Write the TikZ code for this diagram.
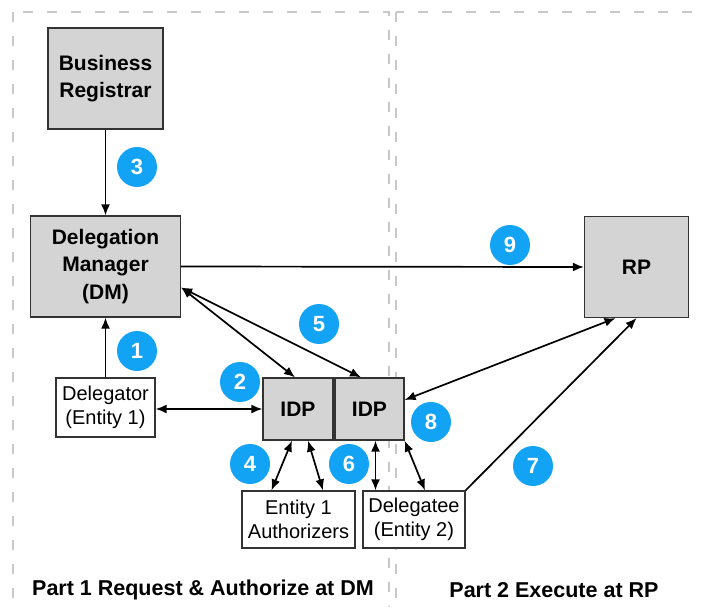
\documentclass[tikz,border=0pt]{standalone}
\usepackage{fontspec}
\setmainfont{Liberation Sans}
\usetikzlibrary{arrows.meta}
\definecolor{boxgray}{RGB}{212,212,212}
\definecolor{badge}{RGB}{18,163,245}
\definecolor{dashgray}{RGB}{200,200,200}
\begin{document}
\begin{tikzpicture}[x=1pt,y=-1pt,
  box/.style={draw=black!80, line width=1.3pt, fill=boxgray, align=center, inner sep=0pt, font=\fontsize{21}{27.5}\selectfont\bfseries},
  wbox/.style={draw=black!80, line width=1.3pt, fill=white, align=center, inner sep=0pt, font=\fontsize{20}{24}\selectfont},
  badgestyle/.style={circle, fill=badge, minimum size=40pt, inner sep=0pt, text=white, font=\fontsize{22}{22}\selectfont\bfseries},
  conn/.style={line width=1.7pt, -{Latex[length=11pt,width=9pt]}},
  dconn/.style={line width=1.7pt, {Latex[length=11pt,width=9pt]}-{Latex[length=11pt,width=9pt]}},
  part/.style={font=\fontsize{21.5}{24}\selectfont\bfseries},
  frame/.style={draw=dashgray, line width=1.5pt, dash pattern=on 10pt off 14pt}
]
\useasboundingbox (0,0) rectangle (702,607);
\fill[white] (0,0) rectangle (702,607);
\begin{scope}
  \clip (0,0) rectangle (702,607);
  \draw[frame] (13,12) rectangle (389,630);
  \draw[frame] (396,12) rectangle (730,630);
\end{scope}

% boxes
\node[box, minimum width=115pt, minimum height=101pt] (br) at (105.5,78.5) {Business\\Registrar};
\node[box, minimum width=150pt, minimum height=101pt] (dm) at (105.5,266.5) {Delegation\\Manager\\(DM)};
\node[box, minimum width=104pt, minimum height=101pt] (rp) at (636.5,267) {RP};
\node[wbox, minimum width=99pt, minimum height=59pt] (dtor) at (105.5,407.5) {Delegator\\(Entity 1)};
\node[box, minimum width=70pt, minimum height=62pt] (idp1) at (298,409) {IDP};
\node[box, minimum width=69pt, minimum height=62pt] (idp2) at (369.5,409) {IDP};
\node[wbox, minimum width=113pt, minimum height=57pt] (ea) at (298.5,519.5) {Entity 1\\Authorizers};
\node[wbox, minimum width=102pt, minimum height=57pt] (dtee) at (414,519.5) {Delegatee\\(Entity 2)};

% connectors
\draw[conn] (br.south) -- (dm.north);
\draw[conn] (dtor.north) -- (dm.south);
\draw[conn] (dm.east) -- (rp.west);
\draw[dconn] ([yshift=-21pt]dm.east) -- ([xshift=-3pt]idp1.north);
\draw[dconn] ([yshift=-21pt]dm.east) -- ([xshift=-8.5pt]idp2.north);
\draw[dconn] (dtor.east |- idp1.west) -- (idp1.west);
\draw[dconn] ([xshift=-6pt]idp1.south) -- ([xshift=-27pt]ea.north);
\draw[dconn] ([xshift=10pt]idp1.south) -- ([xshift=24.5pt]ea.north);
\draw[dconn] ([xshift=6pt]idp2.south) -- ([xshift=-38.5pt]dtee.north);
\draw[dconn] (idp2.south east) -- ([xshift=11pt]dtee.north);
\draw[dconn] ([xshift=-21pt]rp.south) -- ([yshift=9pt]idp2.east);
\draw[conn] (dtee.north east) -- (rp.south);

% badges
\node[badgestyle] (c1) at (137,351) {1};
\node[badgestyle] (c2) at (240,382) {2};
\node[badgestyle] (c3) at (137,167) {3};
\node[badgestyle] (c4) at (250,464) {4};
\node[badgestyle] (c5) at (319,324) {5};
\node[badgestyle] (c6) at (349,464) {6};
\node[badgestyle] (c7) at (533,466) {7};
\node[badgestyle] (c8) at (431,422) {8};
\node[badgestyle] (c9) at (510,245) {9};

% part labels
\node[part] (p1) at (203,590) {Part 1 Request \& Authorize at DM};
\node[part] (p2) at (554,590) {Part 2 Execute at RP};
\end{tikzpicture}
\end{document}
